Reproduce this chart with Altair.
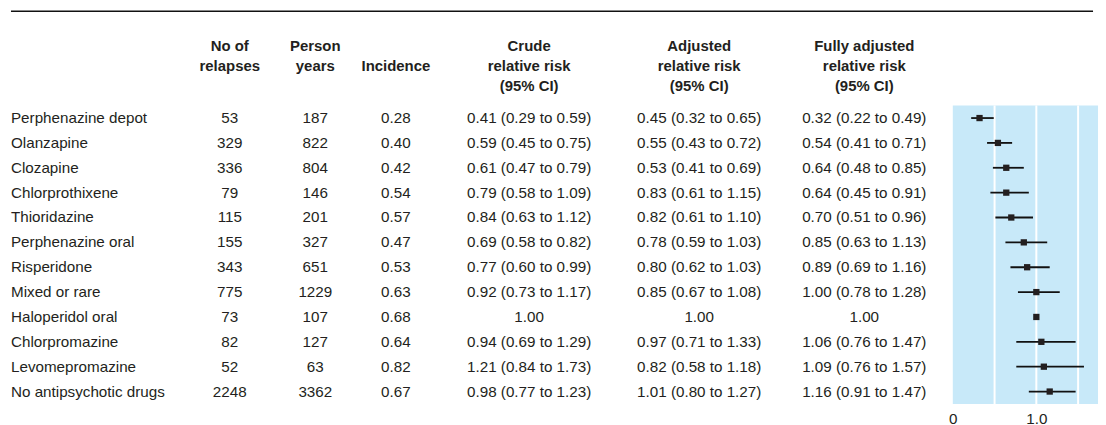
import altair as alt
import pandas as pd

drugs = ["Perphenazine depot", "Olanzapine", "Clozapine", "Chlorprothixene",
         "Thioridazine", "Perphenazine oral", "Risperidone", "Mixed or rare",
         "Haloperidol oral", "Chlorpromazine", "Levomepromazine",
         "No antipsychotic drugs"]
relapses = [53, 329, 336, 79, 115, 155, 343, 775, 73, 82, 52, 2248]
person_years = [187, 822, 804, 146, 201, 327, 651, 1229, 107, 127, 63, 3362]
incidence = ["0.28", "0.40", "0.42", "0.54", "0.57", "0.47", "0.53", "0.63",
             "0.68", "0.64", "0.82", "0.67"]
crude = ["0.41 (0.29 to 0.59)", "0.59 (0.45 to 0.75)", "0.61 (0.47 to 0.79)",
         "0.79 (0.58 to 1.09)", "0.84 (0.63 to 1.12)", "0.69 (0.58 to 0.82)",
         "0.77 (0.60 to 0.99)", "0.92 (0.73 to 1.17)", "1.00",
         "0.94 (0.69 to 1.29)", "1.21 (0.84 to 1.73)", "0.98 (0.77 to 1.23)"]
adjusted = ["0.45 (0.32 to 0.65)", "0.55 (0.43 to 0.72)", "0.53 (0.41 to 0.69)",
            "0.83 (0.61 to 1.15)", "0.82 (0.61 to 1.10)", "0.78 (0.59 to 1.03)",
            "0.80 (0.62 to 1.03)", "0.85 (0.67 to 1.08)", "1.00",
            "0.97 (0.71 to 1.33)", "0.82 (0.58 to 1.18)", "1.01 (0.80 to 1.27)"]
fully_rr = [0.32, 0.54, 0.64, 0.64, 0.70, 0.85, 0.89, 1.00, 1.00, 1.06, 1.09, 1.16]
fully_lo = [0.22, 0.41, 0.48, 0.45, 0.51, 0.63, 0.69, 0.78, None, 0.76, 0.76, 0.91]
fully_hi = [0.49, 0.71, 0.85, 0.91, 0.96, 1.13, 1.16, 1.28, None, 1.47, 1.57, 1.47]
grid_values = [0.5, 1.0, 1.5]
axis_values = [0, 1.0]

def fmt_full(r, lo, hi):
    if lo is None:
        return f"{r:.2f}"
    return f"{r:.2f} ({lo:.2f} to {hi:.2f})"

fully = [fmt_full(r, l, h) for r, l, h in zip(fully_rr, fully_lo, fully_hi)]

df = pd.DataFrame({
    "drug": drugs, "relapses": relapses, "person_years": person_years,
    "incidence": incidence, "crude": crude, "adjusted": adjusted,
    "fully": fully, "rr": fully_rr, "lo": fully_lo, "hi": fully_hi,
})

FONT = "Liberation Sans, Arial, sans-serif"
TXT = "#231f20"
BLUE = "#c8e9f9"
H = 300
FS = 15.3
HFS = 15

ypos = alt.Y("drug:N", sort=drugs, axis=None)

def title(lines):
    return alt.TitleParams(text=lines, font=FONT, fontSize=HFS, fontWeight="bold",
                           color=TXT, lineHeight=20, offset=12, anchor="middle")

def text_col(field, w, lines, left=False):
    base = alt.Chart(df)
    if left:
        m = base.mark_text(font=FONT, fontSize=FS, color=TXT, align="left").encode(
            x=alt.value(0), y=ypos, text=f"{field}:N")
    else:
        m = base.mark_text(font=FONT, fontSize=FS, color=TXT, align="center").encode(
            x=alt.value(w / 2), y=ypos, text=f"{field}:N")
    return m.properties(width=w, height=H, title=title(lines))

names = text_col("drug", 170, [" ", " ", " "], left=True)
c_rel = text_col("relapses", 100, ["No of", "relapses", " "])
c_py = text_col("person_years", 72, ["Person", "years", " "])
c_inc = text_col("incidence", 90, [" ", "Incidence", " "])
c_crude = text_col("crude", 178, ["Crude", "relative risk", "(95% CI)"])
c_adj = text_col("adjusted", 164, ["Adjusted", "relative risk", "(95% CI)"])
c_full = text_col("fully", 168, ["Fully adjusted", "relative risk", "(95% CI)"])

FW = 146
xscale = alt.Scale(domain=[0, FW / 84.0], nice=False, zero=True)
xaxis = alt.Axis(values=axis_values, title=None, ticks=False, domain=False, grid=False,
                 labelFont=FONT, labelFontSize=FS, labelColor=TXT, labelPadding=8,
                 labelFlush=False,
                 labelExpr="datum.value == 0 ? '0' : format(datum.value, '.1f')")

grid = alt.Chart(pd.DataFrame({"g": grid_values})).mark_rule(
    color="white", strokeWidth=2).encode(x=alt.X("g:Q", scale=xscale, axis=xaxis))
ci = alt.Chart(df).transform_filter("datum.lo != null").mark_rule(
    color="#111111", strokeWidth=1.8).encode(
    x=alt.X("lo:Q", scale=xscale, axis=xaxis), x2="hi:Q", y=ypos)
pts = alt.Chart(df).mark_square(size=40, color=TXT, opacity=1).encode(
    x=alt.X("rr:Q", scale=xscale, axis=xaxis), y=ypos)

forest = alt.layer(grid, ci, pts).properties(
    width=FW, height=H, title=title([" ", " ", " "]),
    view=alt.ViewBackground(fill=BLUE, stroke=None))

table = alt.hconcat(names, c_rel, c_py, c_inc, c_crude, c_adj, c_full, forest,
                    spacing=0)

TOTAL = 170 + 100 + 72 + 90 + 178 + 164 + 168 + FW
top_rule = alt.Chart(pd.DataFrame({"k": [0]})).mark_rule(
    color="#111111", strokeWidth=1.5).encode(
    x=alt.value(0), x2=alt.value(TOTAL), y=alt.value(0)).properties(width=TOTAL, height=1)

chart = alt.vconcat(top_rule, table, spacing=26).properties(
    padding={"left": 2, "top": 1, "right": 0, "bottom": 0}
).configure_view(stroke=None)

chart.save("out.html", embed_options={"renderer": "svg", "actions": False})
